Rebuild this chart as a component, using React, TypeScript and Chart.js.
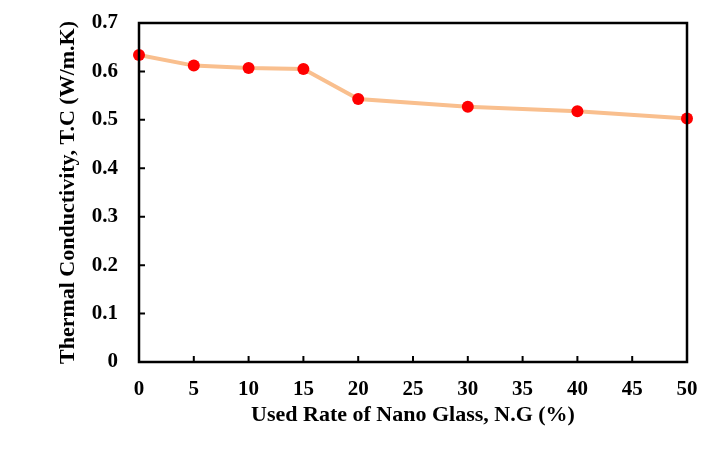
import React, { useEffect, useRef } from "react";
import { Chart, registerables } from "chart.js";

Chart.register(...registerables);

const ngRates = [0, 5, 10, 15, 20, 30, 40, 50];
const thermalConductivity = [0.634, 0.612, 0.607, 0.605, 0.543, 0.527, 0.518, 0.503];
const xTicks = [0, 5, 10, 15, 20, 25, 30, 35, 40, 45, 50];
const yTicks = [0, 0.1, 0.2, 0.3, 0.4, 0.5, 0.6, 0.7];

const FONT = "'Liberation Serif', 'Times New Roman', serif";

// Closed frame around the plot plus short inward-facing tick marks
const frameAndTicks = {
  id: "frameAndTicks",
  afterDatasetsDraw(chart: any) {
    const { ctx, chartArea: a, scales } = chart;
    ctx.save();
    ctx.strokeStyle = "#000";
    ctx.lineWidth = 2.5;
    ctx.strokeRect(a.left, a.top, a.right - a.left, a.bottom - a.top);
    ctx.lineWidth = 2;
    const len = 6;
    ctx.beginPath();
    for (const v of xTicks) {
      const px = scales.x.getPixelForValue(v);
      ctx.moveTo(px, a.bottom);
      ctx.lineTo(px, a.bottom - len);
    }
    for (const v of yTicks) {
      const py = scales.y.getPixelForValue(v);
      ctx.moveTo(a.left, py);
      ctx.lineTo(a.left + len, py);
    }
    ctx.stroke();
    ctx.restore();
  },
};

export default function App() {
  const ref = useRef<HTMLCanvasElement>(null);

  useEffect(() => {
    if (!ref.current) return;
    const chart = new Chart(ref.current, {
      type: "line",
      data: {
        datasets: [
          {
            data: ngRates.map((x, i) => ({ x, y: thermalConductivity[i] })),
            borderColor: "#F9BF8E",
            borderWidth: 4,
            pointBackgroundColor: "#FF0000",
            pointBorderColor: "#FF0000",
            pointRadius: 6,
            pointBorderWidth: 0,
            tension: 0,
            clip: false as any,
          },
        ],
      },
      options: {
        animation: false,
        responsive: false,
        layout: { padding: { left: 55, top: 23, right: 33, bottom: 33 } },
        plugins: { legend: { display: false }, tooltip: { enabled: false } },
        scales: {
          x: {
            type: "linear",
            min: 0,
            max: 50,
            afterBuildTicks: (s: any) => {
              s.ticks = xTicks.map((v) => ({ value: v }));
            },
            afterFit: (s: any) => {
              s.height = 67;
            },
            grid: { display: false, drawTicks: false },
            border: { display: false },
            ticks: {
              padding: 15,
              color: "#000",
              maxRotation: 0,
              font: { family: FONT, size: 21, weight: "bold" },
            },
            title: {
              display: true,
              text: "Used Rate of Nano Glass, N.G (%)",
              color: "#000",
              padding: 0,
              font: { family: FONT, size: 22, weight: "bold" },
            },
          },
          y: {
            min: 0,
            max: 0.7,
            afterBuildTicks: (s: any) => {
              s.ticks = yTicks.map((v) => ({ value: v }));
            },
            afterFit: (s: any) => {
              s.width = 84;
            },
            // invisible tick marks reserve the gap between labels and the frame
            grid: {
              display: true,
              drawOnChartArea: false,
              drawTicks: true,
              tickLength: 21,
              color: "rgba(0,0,0,0)",
            },
            border: { display: false },
            ticks: {
              padding: 0,
              color: "#000",
              font: { family: FONT, size: 21, weight: "bold" },
              callback: (v: any) => (Number(v) === 0 ? "0" : Number(v).toFixed(1)),
            },
            title: {
              display: true,
              text: "Thermal Conductivity, T.C (W/m.K)",
              color: "#000",
              padding: 0,
              font: { family: FONT, size: 22, weight: "bold" },
            },
          },
        },
      },
      plugins: [frameAndTicks],
    });
    return () => chart.destroy();
  }, []);

  return (
    <div style={{ position: "fixed", left: 0, top: 0, width: 720, height: 462, background: "#fff" }}>
      <canvas ref={ref} width={720} height={462} />
    </div>
  );
}
